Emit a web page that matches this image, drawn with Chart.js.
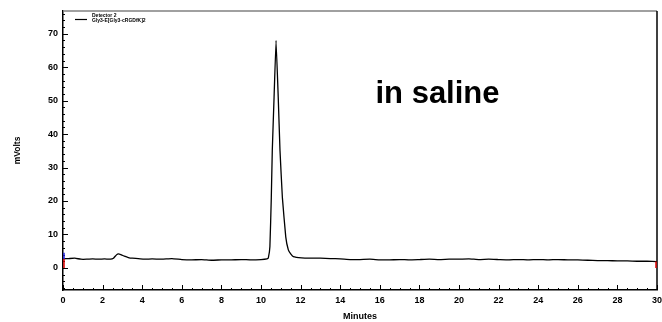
<!DOCTYPE html>
<html>
<head>
<meta charset="utf-8">
<script src="https://cdn.jsdelivr.net/npm/chart.js@4"></script>
<style>
  html, body { margin: 0; padding: 0; background: #fff; }
  #wrap { width: 662px; height: 322px; }
</style>
</head>
<body>
<div id="wrap"><canvas id="chart1" width="662" height="322"></canvas></div>
<script>
// chromatogram trace (minutes, mVolts)
var minutes = [
  0, 0.3, 0.6, 0.9, 1.2, 1.5, 1.8, 2.1, 2.4, 2.55, 2.7, 2.8, 2.95, 3.1, 3.3, 3.5, 3.8,
  4.1, 4.5, 5.0, 5.5, 6.0, 6.5, 7.0, 7.5, 8.0, 8.5, 9.0, 9.5, 10.0, 10.3, 10.37,
  10.45, 10.52, 10.57, 10.66, 10.76, 10.87, 10.96, 11.08, 11.25, 11.38, 11.5, 11.63,
  12.05, 12.5, 13.0, 13.5, 14.0,
  14.5, 15.0, 15.5, 16.0, 16.5, 17.0, 17.5, 18.0, 18.5, 19.0, 19.5, 20.0, 20.5,
  21.0, 21.5, 22.0, 22.5, 23.0, 23.5, 24.0, 24.5, 25.0, 25.5, 26.0, 26.5, 27.0,
  27.5, 28.0, 28.5, 29.0, 29.5, 30.0
];
var mVolts = [
  2.7, 2.8, 2.9, 2.6, 2.6, 2.7, 2.6, 2.7, 2.6, 2.9, 3.9, 4.2, 3.9, 3.5, 3.1, 2.9, 2.8,
  2.6, 2.7, 2.6, 2.8, 2.5, 2.4, 2.5, 2.3, 2.4, 2.4, 2.5, 2.4, 2.5, 2.7, 3.0,
  6.4, 21, 35, 51, 68, 51, 35, 21, 9.3, 5.4, 4.2, 3.4,
  3.0, 2.9, 2.9, 2.8, 2.7,
  2.5, 2.5, 2.6, 2.4, 2.4, 2.5, 2.4, 2.5, 2.6, 2.5, 2.6, 2.6, 2.7,
  2.5, 2.6, 2.5, 2.4, 2.5, 2.4, 2.5, 2.4, 2.5, 2.4, 2.4, 2.3, 2.2,
  2.2, 2.1, 2.1, 2.0, 2.0, 1.9
];

// axis ticks
var xTicks = [0, 2, 4, 6, 8, 10, 12, 14, 16, 18, 20, 22, 24, 26, 28, 30];
var yTicks = [0, 10, 20, 30, 40, 50, 60, 70];
var yMin = -6.6, yMax = 76.8;

var legendLines = ['Detector 2', 'Gly3-E[Gly3-cRGDfK]2'];
var noteText = 'in saline';

var tracePoints = minutes.map(function (m, i) { return { x: m, y: mVolts[i] }; });

// frame, minor ticks, legend and note
var extrasPlugin = {
  id: 'extras',
  afterDraw: function (chart) {
    var ctx = chart.ctx;
    var a = chart.chartArea;
    var xs = chart.scales.x, ys = chart.scales.y;
    ctx.save();
    // top border gray, right border black
    ctx.lineWidth = 1.5;
    ctx.strokeStyle = '#808080';
    ctx.beginPath(); ctx.moveTo(a.left, a.top); ctx.lineTo(a.right, a.top); ctx.stroke();
    ctx.strokeStyle = '#000';
    ctx.beginPath(); ctx.moveTo(a.right, a.top); ctx.lineTo(a.right, a.bottom); ctx.stroke();

    // minor ticks
    ctx.lineWidth = 1;
    ctx.strokeStyle = '#000';
    ctx.beginPath();
    for (var v = 0; v <= 30.001; v += 0.5) {
      var px = Math.round(xs.getPixelForValue(v)) + 0.5;
      var len = (Math.abs(v % 2) < 0.01) ? 5 : 2;
      ctx.moveTo(px, a.bottom); ctx.lineTo(px, a.bottom - len);
    }
    for (var w = -6; w <= 76; w += 2) {
      var py = Math.round(ys.getPixelForValue(w)) + 0.5;
      var l2 = (w % 10 === 0) ? 5 : 2;
      ctx.moveTo(a.left, py); ctx.lineTo(a.left + l2, py);
    }
    ctx.stroke();

    // start / end markers
    ctx.lineWidth = 1.5;
    ctx.strokeStyle = '#2020e0';
    ctx.beginPath(); ctx.moveTo(a.left + 1, ys.getPixelForValue(4.5)); ctx.lineTo(a.left + 1, ys.getPixelForValue(2.7)); ctx.stroke();
    ctx.strokeStyle = '#e00000';
    ctx.beginPath(); ctx.moveTo(a.left + 1, ys.getPixelForValue(2.7)); ctx.lineTo(a.left + 1, ys.getPixelForValue(0)); ctx.stroke();
    ctx.beginPath(); ctx.moveTo(a.right - 1, ys.getPixelForValue(1.9)); ctx.lineTo(a.right - 1, ys.getPixelForValue(0)); ctx.stroke();

    // legend
    ctx.lineWidth = 1.2;
    ctx.strokeStyle = '#000';
    ctx.beginPath(); ctx.moveTo(a.left + 12, a.top + 8.5); ctx.lineTo(a.left + 24, a.top + 8.5); ctx.stroke();
    ctx.fillStyle = '#000';
    ctx.font = 'bold 5px "Liberation Sans", Arial, sans-serif';
    ctx.textAlign = 'left';
    ctx.textBaseline = 'middle';
    ctx.fillText(legendLines[0], a.left + 29, a.top + 4.5);
    ctx.fillText(legendLines[1], a.left + 29, a.top + 10);

    // note
    ctx.font = 'bold 31px "Liberation Sans", Arial, sans-serif';
    ctx.textAlign = 'center';
    ctx.textBaseline = 'alphabetic';
    ctx.fillText(noteText, 437.5, 103);
    ctx.restore();
  }
};

var ctx1 = document.getElementById('chart1').getContext('2d');
var chart1 = new Chart(ctx1, {
  type: 'scatter',
  data: {
    datasets: [{
      label: legendLines[0],
      data: tracePoints,
      showLine: true,
      borderColor: '#000',
      borderWidth: 1.3,
      pointRadius: 0,
      tension: 0.1,
      fill: false
    }]
  },
  options: {
    responsive: false,
    animation: false,
    layout: { padding: { left: 13, right: 5, top: 11, bottom: 0 } },
    plugins: {
      legend: { display: false },
      tooltip: { enabled: false }
    },
    scales: {
      x: {
        type: 'linear',
        min: 0,
        max: 30,
        afterBuildTicks: function (scale) {
          scale.ticks = xTicks.map(function (v) { return { value: v }; });
        },
        afterFit: function (scale) {
          scale.height = 32;
          scale.paddingLeft = 0;
          scale.paddingRight = 0;
        },
        grid: { display: false, drawTicks: false },
        border: { display: true, color: '#000', width: 1.5 },
        ticks: {
          color: '#000',
          padding: 5,
          maxRotation: 0,
          font: { family: '"Liberation Sans", Arial, sans-serif', size: 9, weight: 'bold' }
        },
        title: {
          display: true,
          text: 'Minutes',
          color: '#000',
          padding: 0,
          font: { family: '"Liberation Sans", Arial, sans-serif', size: 9, weight: 'bold' }
        }
      },
      y: {
        min: yMin,
        max: yMax,
        afterBuildTicks: function (scale) {
          scale.ticks = yTicks.map(function (v) { return { value: v }; });
        },
        afterFit: function (scale) {
          scale.width = 50;
          scale.paddingTop = 0;
          scale.paddingBottom = 0;
        },
        grid: { display: false, drawTicks: false },
        border: { display: true, color: '#000', width: 1.5 },
        ticks: {
          color: '#000',
          padding: 5,
          font: { family: '"Liberation Sans", Arial, sans-serif', size: 9, weight: 'bold' }
        },
        title: {
          display: true,
          text: 'mVolts',
          color: '#000',
          padding: 0,
          font: { family: '"Liberation Sans", Arial, sans-serif', size: 8.5, weight: 'bold' }
        }
      }
    }
  },
  plugins: [extrasPlugin]
});
</script>
</body>
</html>
